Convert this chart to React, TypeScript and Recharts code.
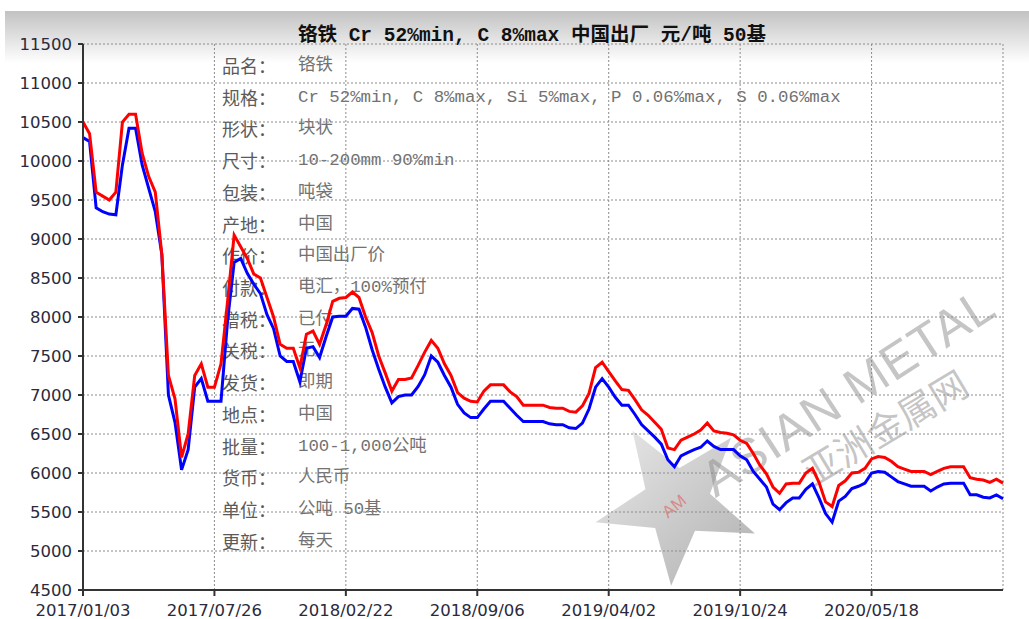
import { LineChart, Line, XAxis, YAxis, CartesianGrid } from 'recharts';

// price series, one value per index step (index 0..140)
const redPrices = [
  10500, 10350, 9600, 9550, 9500, 9600, 10500, 10600, 10600, 10100,
  9800, 9600, 8800, 7250, 6950, 6200, 6500, 7250, 7400, 7100,
  7100, 7400, 8200, 9050, 8900, 8750, 8550, 8500, 8250, 8000,
  7650, 7600, 7600, 7350, 7780, 7820, 7650, 7900, 8200, 8240,
  8250, 8320, 8250, 8000, 7800, 7500, 7280, 7050, 7200, 7200,
  7220, 7380, 7550, 7700, 7600, 7400, 7250, 7030, 6960, 6920,
  6910, 7050, 7130, 7130, 7130, 7040, 6980, 6870, 6870, 6870,
  6870, 6840, 6830, 6830, 6790, 6780, 6860, 7020, 7350, 7420,
  7300, 7180, 7070, 7060, 6940, 6810, 6740, 6650, 6560, 6320,
  6300, 6420, 6460, 6500, 6550, 6640, 6540, 6520, 6510, 6490,
  6420, 6380, 6250, 6100, 5990, 5820, 5740, 5860, 5870, 5870,
  6000, 6060, 5880, 5630, 5570, 5840, 5900, 6000, 6010, 6060,
  6180, 6210, 6200, 6150, 6080, 6050, 6020, 6020, 6020, 5980,
  6020, 6060, 6080, 6080, 6080, 5940, 5920, 5910, 5880, 5920,
  5870,
];

const bluePrices = [
  10300, 10250, 9400, 9350, 9320, 9310, 9950, 10420, 10420, 9950,
  9650, 9350, 8800, 7000, 6650, 6040, 6300, 7100, 7210, 6920,
  6920, 6920, 7950, 8700, 8750, 8560, 8420, 8300, 8030, 7850,
  7500, 7430, 7430, 7170, 7600, 7620, 7480, 7750, 8000, 8010,
  8010, 8110, 8100, 7870, 7580, 7330, 7100, 6900, 6980, 7000,
  7000, 7110, 7260, 7500, 7420, 7250, 7100, 6880, 6770, 6710,
  6710, 6820, 6920, 6920, 6920, 6830, 6740, 6660, 6660, 6660,
  6660, 6630, 6620, 6620, 6580, 6570, 6640, 6820, 7100, 7210,
  7100, 6970, 6870, 6870, 6750, 6620, 6540, 6460, 6370, 6170,
  6080, 6220, 6260, 6300, 6330, 6410, 6340, 6300, 6300, 6300,
  6220, 6170, 6020, 5920, 5820, 5600, 5530, 5620, 5680, 5680,
  5790, 5860, 5680, 5480, 5370, 5640, 5700, 5800, 5830, 5870,
  6000, 6020, 6010, 5950, 5890, 5860, 5830, 5830, 5830, 5770,
  5820, 5860, 5870, 5870, 5870, 5720, 5720, 5690, 5680, 5720,
  5670,
];

const dateLabels = ['2017/01/03', '2017/07/26', '2018/02/22', '2018/09/06', '2019/04/02', '2019/10/24', '2020/05/18'];
const dateTicks = [0, 20, 40, 60, 80, 100, 120];
const yTicks = [4500, 5000, 5500, 6000, 6500, 7000, 7500, 8000, 8500, 9000, 9500, 10000, 10500, 11000, 11500];

const specNames = ['品名：', '规格：', '形状：', '尺寸：', '包装：', '产地：', '作价：', '付款：', '增税：', '关税：', '发货：', '地点：', '批量：', '货币：', '单位：', '更新：'];
const specValues = [
  '铬铁',
  'Cr 52%min, C 8%max, Si 5%max, P 0.06%max, S 0.06%max',
  '块状',
  '10-200mm 90%min',
  '吨袋',
  '中国',
  '中国出厂价',
  '电汇，100%预付',
  '已付',
  '无',
  '即期',
  '中国',
  '100-1,000公吨',
  '人民币',
  '公吨 50基',
  '每天',
];

const data = redPrices.map((v, i) => ({ i, red: v, blue: bluePrices[i] }));

const tickFont = { fontSize: 16.5, fill: '#2a2a3c', fontFamily: 'DejaVu Sans' };

function starPoints(cx: number, cy: number, R: number, r: number, rot: number) {
  const pts: string[] = [];
  for (let k = 0; k < 10; k++) {
    const a = ((rot + k * 36) * Math.PI) / 180;
    const rad = k % 2 === 0 ? R : r;
    pts.push(`${cx + rad * Math.cos(a)},${cy + rad * Math.sin(a)}`);
  }
  return pts.join(' ');
}

export default function App() {
  return (
    <div style={{ position: 'absolute', left: 0, top: 0, width: 1029, height: 619, background: '#fff', overflow: 'hidden' }}>
      <div style={{ position: 'absolute', left: 5, top: 11, width: 1024, height: 52, background: 'linear-gradient(#c2c2c2, #ffffff)' }} />
      <div
        style={{
          position: 'absolute', left: 0, top: 18, width: 1064, textAlign: 'center',
          fontFamily: "'Liberation Mono', 'Noto Sans CJK SC'", fontWeight: 'bold', fontSize: 19.5, color: '#111', whiteSpace: 'pre',
        }}
      >
        铬铁 Cr 52%min, C 8%max 中国出厂 元/吨 50基
      </div>

      {/* spec sheet printed behind the plot */}
      <div style={{ position: 'absolute', left: 222, top: 50 }}>
        {specNames.map((n, k) => (
          <div key={n} style={{ height: 31.73, lineHeight: '31.73px', whiteSpace: 'pre', display: 'flex' }}>
            <span style={{ width: 76, fontFamily: "'Noto Sans CJK SC'", fontSize: 18, color: '#5a5a5a' }}>{n}</span>
            <span style={{ fontFamily: "'Liberation Mono', 'Noto Sans CJK SC'", fontSize: 17.4, color: '#727272' }}>{specValues[k]}</span>
          </div>
        ))}
      </div>

      {/* watermark */}
      <svg width={1029} height={619} style={{ position: 'absolute', left: 0, top: 0 }}>
        <defs>
          <linearGradient id="starFill" x1="0" y1="0" x2="1" y2="1">
            <stop offset="0%" stopColor="#e2e2e2" />
            <stop offset="100%" stopColor="#959595" />
          </linearGradient>
        </defs>
        <polygon points={starPoints(677, 502, 84, 34, -122)} fill="url(#starFill)" opacity={0.75} />
        <text x={674} y={512} fill="rgba(225,80,80,0.55)" fontSize={17} fontFamily="Liberation Sans" textAnchor="middle" transform="rotate(-40 674 506)">AM</text>
      </svg>
      <div
        style={{
          position: 'absolute', left: 848, top: 392, transform: 'translate(-50%, -50%) rotate(-33deg)',
          fontFamily: "'Liberation Sans'", fontSize: 50, color: 'rgba(140,140,140,0.5)', whiteSpace: 'nowrap', letterSpacing: 1,
        }}
      >
        ASIAN METAL
      </div>
      <div
        style={{
          position: 'absolute', left: 884, top: 426, transform: 'translate(-50%, -50%) rotate(-31deg)',
          fontFamily: "'Noto Sans CJK SC'", fontSize: 37, color: 'rgba(140,140,140,0.5)', whiteSpace: 'nowrap',
        }}
      >
        亚洲金属网
      </div>

      <div style={{ position: 'absolute', left: 0, top: 0 }}>
        <LineChart width={1029} height={619} data={data} margin={{ top: 44, right: 26, bottom: 0, left: 0 }}>
          <CartesianGrid stroke="#8c8c8c" strokeDasharray="2 2" />
          <XAxis
            type="number"
            dataKey="i"
            domain={[0, 140]}
            ticks={dateTicks}
            tickFormatter={(v: number) => dateLabels[dateTicks.indexOf(v)] ?? ''}
            height={29}
            tick={tickFont}
            tickSize={6}
            tickMargin={8}
            axisLine={{ stroke: '#333', strokeWidth: 2 }}
            tickLine={{ stroke: '#333', strokeWidth: 2 }}
            interval={0}
          />
          <YAxis
            domain={[4500, 11500]}
            ticks={yTicks}
            width={83}
            tick={tickFont}
            tickSize={5}
            tickMargin={6}
            axisLine={{ stroke: '#333', strokeWidth: 2 }}
            tickLine={{ stroke: '#333', strokeWidth: 2 }}
            interval={0}
          />
          <Line type="linear" dataKey="blue" stroke="#0000ff" strokeWidth={3} dot={false} isAnimationActive={false} />
          <Line type="linear" dataKey="red" stroke="#ff0000" strokeWidth={3} dot={false} isAnimationActive={false} />
        </LineChart>
      </div>
    </div>
  );
}
